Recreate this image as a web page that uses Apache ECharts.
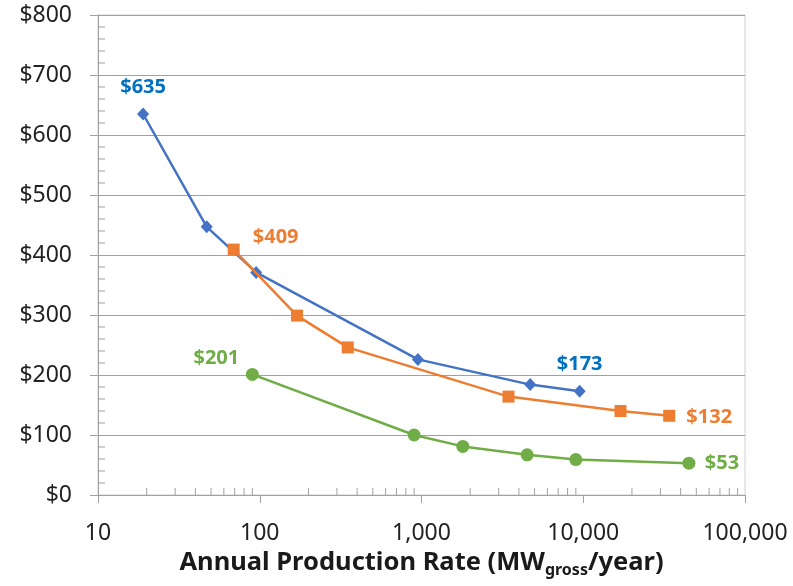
<!DOCTYPE html>
<html>
<head>
<meta charset="utf-8">
<title>Annual Production Rate</title>
<script src="https://cdn.jsdelivr.net/npm/echarts@6/dist/echarts.min.js"></script>
<style>
  html, body { margin: 0; padding: 0; background: #ffffff; }
  #chart { width: 793px; height: 586px; }
</style>
</head>
<body>
<div id="chart"></div>
<script>
// Production rate (MW gross / year) and cost ($) for each curve
const blueRates = [19, 47, 95, 950, 4700, 9500];
const blueCosts = [635, 447, 371, 226, 184, 173];

const orangeRates = [69, 170, 350, 3450, 17000, 34000];
const orangeCosts = [409, 299, 246, 164, 140, 132];

const greenRates = [90, 900, 1800, 4500, 9000, 45000];
const greenCosts = [201, 100, 81, 67, 59, 53];

// Axis ranges and tick labels
const xMin = 10, xMax = 100000;
const yMin = 0, yMax = 800, yStep = 100;
const xTickLabels = { 10: '10', 100: '100', 1000: '1,000', 10000: '10,000', 100000: '100,000' };

// Minor tick positions: 2..9 within every decade, and every $20 on the cost axis
const xMinorTicks = [];
for (let d = xMin; d < xMax; d *= 10) {
  for (let m = 2; m <= 9; m++) xMinorTicks.push(m * d);
}
const yMinorTicks = [];
for (let v = yMin; v < yMax; v += yStep) {
  for (let s = 1; s < 5; s++) yMinorTicks.push(v + s * 20);
}

const FONT = 'Noto Sans';
const GRID_COLOR = '#a0a0a0';

function labelStyle(color, dx, dy) {
  return {
    show: true,
    position: 'inside',
    offset: [dx, dy],
    formatter: p => '$' + p.value[1],
    color: color,
    fontFamily: FONT,
    fontWeight: 'bold',
    fontSize: 20
  };
}

// Build [x, y] points; labelled points get their own label setup
function buildPoints(rates, costs, labels) {
  return rates.map((r, i) => {
    const item = { value: [r, costs[i]] };
    if (labels[i]) item.label = labels[i];
    return item;
  });
}

const blueData = buildPoints(blueRates, blueCosts, {
  0: labelStyle('#0070C0', 0, -27),
  5: labelStyle('#0070C0', 0, -27)
});
const orangeData = buildPoints(orangeRates, orangeCosts, {
  0: labelStyle('#ED7D31', 42, -12),
  5: labelStyle('#ED7D31', 40, 1)
});
const greenData = buildPoints(greenRates, greenCosts, {
  0: labelStyle('#70AD47', -36, -16),
  5: labelStyle('#70AD47', 33, 0)
});

function minorTickSeries(values, horizontal) {
  return {
    type: 'custom',
    silent: true,
    z: 1,
    data: values.map(v => horizontal ? [v, yMin] : [xMin, v]),
    renderItem: (params, api) => {
      const p = api.coord([api.value(0), api.value(1)]);
      const shape = horizontal
        ? { x1: p[0], y1: p[1], x2: p[0], y2: p[1] - 7 }
        : { x1: p[0], y1: p[1], x2: p[0] + 7, y2: p[1] };
      return { type: 'line', shape: shape, style: { stroke: GRID_COLOR, lineWidth: 1 } };
    }
  };
}

const chart = echarts.init(document.getElementById('chart'), null, { renderer: 'canvas' });

chart.setOption({
  animation: false,
  backgroundColor: '#ffffff',
  grid: {
    left: 98, right: 48, top: 15, bottom: 91,
    outerBoundsMode: 'none',
    containLabel: false,
    show: true, borderColor: '#d0d0d0', borderWidth: 1, backgroundColor: '#ffffff'
  },
  xAxis: {
    type: 'log',
    logBase: 10,
    min: xMin,
    max: xMax,
    name: '{a|Annual Production Rate (MW}{b|gross}{a|/year)}',
    nameLocation: 'middle',
    nameGap: 53,
    nameTextStyle: {
      rich: {
        a: { fontFamily: FONT, fontWeight: 'bold', fontSize: 25.5, color: '#1a1a1a', lineHeight: 30 },
        b: { fontFamily: FONT, fontWeight: 'bold', fontSize: 16, color: '#1a1a1a', lineHeight: 8, verticalAlign: 'bottom' }
      }
    },
    axisLine: { show: true, lineStyle: { color: GRID_COLOR, width: 1 } },
    axisTick: { show: true, inside: false, length: 8, lineStyle: { color: GRID_COLOR } },
    axisLabel: {
      margin: 27,
      fontFamily: FONT,
      fontSize: 23,
      color: '#222222',
      formatter: v => xTickLabels[Math.round(v)] || ''
    },
    splitLine: { show: false },
    minorTick: { show: false }
  },
  yAxis: {
    type: 'value',
    min: yMin,
    max: yMax,
    interval: yStep,
    axisLine: { show: true, lineStyle: { color: GRID_COLOR, width: 1 } },
    axisTick: { show: true, inside: false, length: 8, lineStyle: { color: GRID_COLOR } },
    axisLabel: {
      margin: 26,
      fontFamily: FONT,
      fontSize: 23,
      color: '#222222',
      formatter: v => '$' + v
    },
    splitLine: { show: true, lineStyle: { color: GRID_COLOR, width: 1 } }
  },
  series: [
    minorTickSeries(xMinorTicks, true),
    minorTickSeries(yMinorTicks, false),
    {
      type: 'line',
      data: blueData,
      symbol: 'diamond',
      symbolSize: [12, 13],
      lineStyle: { color: '#4472C4', width: 2.5 },
      itemStyle: { color: '#4472C4' },
      z: 3
    },
    {
      type: 'line',
      data: orangeData,
      symbol: 'rect',
      symbolSize: 12,
      lineStyle: { color: '#ED7D31', width: 2.5 },
      itemStyle: { color: '#ED7D31' },
      z: 4
    },
    {
      type: 'line',
      data: greenData,
      symbol: 'circle',
      symbolSize: 13,
      lineStyle: { color: '#70AD47', width: 2.5 },
      itemStyle: { color: '#70AD47' },
      z: 3
    }
  ]
});
</script>
</body>
</html>
